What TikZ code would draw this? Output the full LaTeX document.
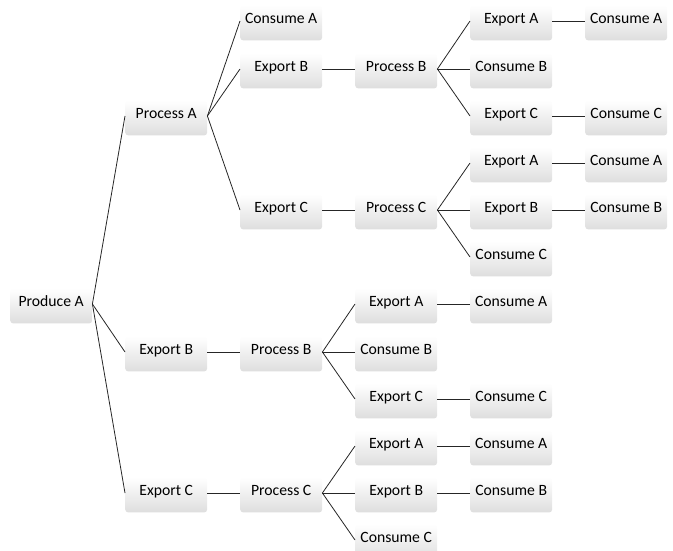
\documentclass[tikz,border=0pt]{standalone}
\usepackage{fontspec}
\setmainfont{Carlito}
\usepackage{tikz}

\tikzset{
    item/.style={rectangle, rounded corners=3pt, inner sep=0pt, anchor=mid west,
        minimum width=82pt, text height=18pt, text depth=17pt,
        top color=white, bottom color=black!13, font=\fontsize{15.7}{18}\selectfont},
    link/.style={line width=0.8pt, black!85}
}

\begin{document}
\begin{tikzpicture}[x=1pt, y=-1pt]
    \useasboundingbox (0,-3) rectangle (673,547);

    % Draw nodes
    \node[item] (prodA) at (10,301) {Produce A};

    \node[item] (procA) at (125,113) {Process A};
    \node[item] (expB) at (125,349) {Export B};
    \node[item] (expC) at (125,490) {Export C};

    \node[item] (aconsA) at (240,18) {Consume A};
    \node[item] (aexpB) at (240,66) {Export B};
    \node[item] (aexpC) at (240,207) {Export C};
    \node[item] (bproc) at (240,349) {Process B};
    \node[item] (cproc) at (240,490) {Process C};

    \node[item] (abproc) at (355,66) {Process B};
    \node[item] (acproc) at (355,207) {Process C};
    \node[item] (bexpA) at (355,301) {Export A};
    \node[item] (bconsB) at (355,349) {Consume B};
    \node[item] (bexpC) at (355,396) {Export C};
    \node[item] (cexpA) at (355,443) {Export A};
    \node[item] (cexpB) at (355,490) {Export B};
    \node[item] (cconsC) at (355,537) {Consume C};

    \node[item] (abexpA) at (470,18) {Export A};
    \node[item] (abconsB) at (470,66) {Consume B};
    \node[item] (abexpC) at (470,113) {Export C};
    \node[item] (acexpA) at (470,160) {Export A};
    \node[item] (acexpB) at (470,207) {Export B};
    \node[item] (acconsC) at (470,254) {Consume C};
    \node[item] (bconsA) at (470,301) {Consume A};
    \node[item] (bconsC) at (470,396) {Consume C};
    \node[item] (cconsA) at (470,443) {Consume A};
    \node[item] (cconsB) at (470,490) {Consume B};

    \node[item] (abconsA) at (585,18) {Consume A};
    \node[item] (abconsC) at (585,113) {Consume C};
    \node[item] (acconsA) at (585,160) {Consume A};
    \node[item] (acconsB) at (585,207) {Consume B};

    % Draw connections
    \draw[link] (prodA.mid east) -- (procA.mid west);
    \draw[link] (prodA.mid east) -- (expB.mid west);
    \draw[link] (prodA.mid east) -- (expC.mid west);

    \draw[link] (procA.mid east) -- (aconsA.mid west);
    \draw[link] (procA.mid east) -- (aexpB.mid west);
    \draw[link] (procA.mid east) -- (aexpC.mid west);
    \draw[link] (expB.mid east) -- (bproc.mid west);
    \draw[link] (expC.mid east) -- (cproc.mid west);

    \draw[link] (aexpB.mid east) -- (abproc.mid west);
    \draw[link] (aexpC.mid east) -- (acproc.mid west);
    \draw[link] (bproc.mid east) -- (bexpA.mid west);
    \draw[link] (bproc.mid east) -- (bconsB.mid west);
    \draw[link] (bproc.mid east) -- (bexpC.mid west);
    \draw[link] (cproc.mid east) -- (cexpA.mid west);
    \draw[link] (cproc.mid east) -- (cexpB.mid west);
    \draw[link] (cproc.mid east) -- (cconsC.mid west);

    \draw[link] (abproc.mid east) -- (abexpA.mid west);
    \draw[link] (abproc.mid east) -- (abconsB.mid west);
    \draw[link] (abproc.mid east) -- (abexpC.mid west);
    \draw[link] (acproc.mid east) -- (acexpA.mid west);
    \draw[link] (acproc.mid east) -- (acexpB.mid west);
    \draw[link] (acproc.mid east) -- (acconsC.mid west);
    \draw[link] (bexpA.mid east) -- (bconsA.mid west);
    \draw[link] (bexpC.mid east) -- (bconsC.mid west);
    \draw[link] (cexpA.mid east) -- (cconsA.mid west);
    \draw[link] (cexpB.mid east) -- (cconsB.mid west);

    \draw[link] (abexpA.mid east) -- (abconsA.mid west);
    \draw[link] (abexpC.mid east) -- (abconsC.mid west);
    \draw[link] (acexpA.mid east) -- (acconsA.mid west);
    \draw[link] (acexpB.mid east) -- (acconsB.mid west);
\end{tikzpicture}
\end{document}
